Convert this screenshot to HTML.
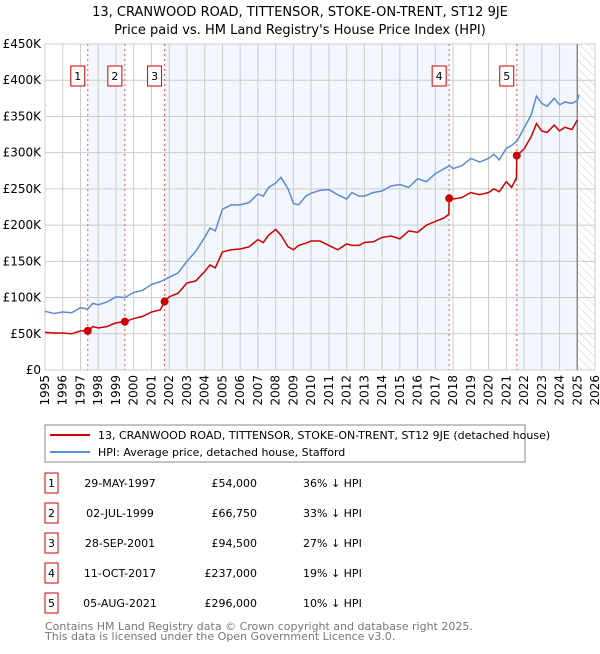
<!DOCTYPE html>
<html><head><meta charset="utf-8"><style>
body{margin:0;background:#fff;font-family:"DejaVu Sans","Liberation Sans",sans-serif;}
svg text{font-family:"DejaVu Sans","Liberation Sans",sans-serif;}
</style></head><body>
<svg id="chart" width="600" height="650" xmlns="http://www.w3.org/2000/svg">
<defs><pattern id="hatch" width="6" height="6" patternUnits="userSpaceOnUse" patternTransform="rotate(-45)"><line x1="0" y1="0" x2="0" y2="6" stroke="#ccc" stroke-width="1"/></pattern></defs>
<text x="300" y="16" text-anchor="middle" font-size="13">13, CRANWOOD ROAD, TITTENSOR, STOKE-ON-TRENT, ST12 9JE</text>
<text x="300" y="34" text-anchor="middle" font-size="13">Price paid vs. HM Land Registry's House Price Index (HPI)</text>
<g id="bands"></g><g id="grid"></g><g id="axes"></g><g id="lines"></g><g id="markers"></g>
<rect x="45" y="425" width="480" height="37" fill="#fff" stroke="#888"/>
<line x1="50" y1="435" x2="90" y2="435" stroke="#cc0000" stroke-width="2"/>
<text x="98" y="439" font-size="11">13, CRANWOOD ROAD, TITTENSOR, STOKE-ON-TRENT, ST12 9JE (detached house)</text>
<line x1="50" y1="452" x2="90" y2="452" stroke="#5b8bd0" stroke-width="2"/>
<text x="98" y="456" font-size="11">HPI: Average price, detached house, Stafford</text>
<g id="table"></g>
<text x="45" y="630" font-size="11" fill="#777">Contains HM Land Registry data © Crown copyright and database right 2025.</text>
<text x="45" y="640" font-size="11" fill="#777">This data is licensed under the Open Government Licence v3.0.</text>
</svg>
<script>
const yTicks=[0,50,100,150,200,250,300,350,400,450];
const yTickLabels=["£0","£50K","£100K","£150K","£200K","£250K","£300K","£350K","£400K","£450K"];
const years=[1995,1996,1997,1998,1999,2000,2001,2002,2003,2004,2005,2006,2007,2008,2009,2010,2011,2012,2013,2014,2015,2016,2017,2018,2019,2020,2021,2022,2023,2024,2025,2026];
const hpiT=[1995,1995.5,1996,1996.5,1997,1997.4,1997.7,1998,1998.5,1999,1999.5,2000,2000.5,2001,2001.5,2002,2002.5,2003,2003.5,2004,2004.3,2004.6,2005,2005.5,2006,2006.5,2007,2007.3,2007.6,2008,2008.3,2008.7,2009,2009.3,2009.7,2010,2010.5,2011,2011.5,2012,2012.3,2012.7,2013,2013.5,2014,2014.5,2015,2015.5,2016,2016.5,2017,2017.5,2017.8,2018,2018.5,2019,2019.5,2020,2020.3,2020.6,2021,2021.3,2021.6,2022,2022.4,2022.7,2023,2023.3,2023.7,2024,2024.3,2024.7,2025,2025.1];
const hpiV=[81,78,80,79,86,84,92,90,94,101,100,107,110,118,122,128,134,150,164,183,196,192,222,228,228,231,243,240,252,258,266,250,230,228,240,244,248,249,242,236,245,240,240,245,247,254,256,252,264,260,271,278,282,278,282,292,287,292,298,290,306,310,316,334,352,378,368,364,375,366,370,368,372,380];
const redT=[1995,1995.5,1996,1996.5,1997,1997.41,1997.7,1998,1998.5,1999,1999.5,2000,2000.5,2001,2001.5,2001.74,2002,2002.5,2003,2003.5,2004,2004.3,2004.6,2005,2005.5,2006,2006.5,2007,2007.3,2007.6,2008,2008.3,2008.7,2009,2009.3,2009.7,2010,2010.5,2011,2011.5,2012,2012.3,2012.7,2013,2013.5,2014,2014.5,2015,2015.5,2016,2016.5,2017,2017.5,2017.76,2017.78,2018,2018.5,2019,2019.5,2020,2020.3,2020.6,2021,2021.3,2021.57,2021.59,2022,2022.4,2022.7,2023,2023.3,2023.7,2024,2024.3,2024.7,2025,2025.1];
const redV=[52,51,51,50,54,54,60,58,60,65,66.75,71,74,80,83,94.5,101,106,120,123,136,145,141,163,166,167,170,180,176,186,194,186,170,166,172,175,178,178,172,166,174,172,172,176,177,183,185,181,192,190,200,205,210,215,237,236,238,245,242,245,250,246,260,252,265,296,305,322,340,330,328,338,330,335,332,345];
const saleLabels=["1","2","3","4","5"];
const saleT=[1997.41,1999.50,2001.74,2017.78,2021.59];
const saleV=[54,66.75,94.5,237,296];
const saleDates=["29-MAY-1997","02-JUL-1999","28-SEP-2001","11-OCT-2017","05-AUG-2021"];
const salePrices=["£54,000","£66,750","£94,500","£237,000","£296,000"];
const saleHpi=["36% ↓ HPI","33% ↓ HPI","27% ↓ HPI","19% ↓ HPI","10% ↓ HPI"];
const NS="http://www.w3.org/2000/svg";
const X0=45,X1=595,Y0=370,Y1=44;
const x=t=>X0+(t-1995)*(X1-X0)/31;
const y=v=>Y0-v*(Y0-Y1)/450;
function mk(tag,attrs,parent,txt){const e=document.createElementNS(NS,tag);for(const k in attrs)e.setAttribute(k,attrs[k]);if(txt!==undefined)e.textContent=txt;parent.appendChild(e);return e;}
const bands=document.getElementById('bands'),grid=document.getElementById('grid'),axes=document.getElementById('axes'),lines=document.getElementById('lines'),markers=document.getElementById('markers'),table=document.getElementById('table');
// shaded bands
const bandEdges=saleT.concat([2025]);
for(let i=0;i<bandEdges.length-1;i+=2){const r=mk('rect',{x:x(bandEdges[i]),y:Y1,width:x(bandEdges[i+1])-x(bandEdges[i]),height:Y0-Y1,fill:'#eef3fc',opacity:0.75},bands);

}
const h=mk('rect',{x:x(2025),y:Y1,width:X1-x(2025),height:Y0-Y1,fill:'url(#hatch)'},bands);


yTicks.forEach((v,i)=>{mk('line',{x1:X0,x2:X1,y1:y(v),y2:y(v),stroke:'#ccc'},grid);
const t=mk('text',{x:X0-4,y:y(v)+4,'text-anchor':'end','font-size':12},axes,yTickLabels[i]);

});
years.forEach(yr=>{mk('line',{x1:x(yr),x2:x(yr),y1:Y1,y2:Y0,stroke:'#ccc'},grid);
const t=mk('text',{transform:`translate(${x(yr)+4},${Y0+5}) rotate(-90)`,'text-anchor':'end','font-size':12},axes,String(yr));

});
mk('rect',{x:X0,y:Y1,width:X1-X0,height:Y0-Y1,fill:'none',stroke:'#ccc'},grid);
mk('line',{x1:x(2025),x2:x(2025),y1:Y1,y2:Y0,stroke:'#888','stroke-width':1.5},grid);
saleT.forEach(t=>{const l=mk('line',{x1:x(t),x2:x(t),y1:Y1,y2:Y0,stroke:'#e55','stroke-dasharray':'2,3'},grid);

});
const hp=mk('polyline',{points:hpiT.map((t,i)=>x(t)+','+y(hpiV[i])).join(' '),fill:'none',stroke:'#5b8bd0','stroke-width':1.5},lines);


const rp=mk('polyline',{points:redT.map((t,i)=>x(t)+','+y(redV[i])).join(' '),fill:'none',stroke:'#cc0000','stroke-width':1.5},lines);


saleT.forEach((t,i)=>{const c=mk('circle',{cx:x(t),cy:y(saleV[i]),r:4,fill:'#cc0000'},markers);


const g=mk('g',{},markers);


mk('rect',{x:x(t)-17,y:66,width:14,height:20,fill:'#fff',stroke:'#cc0000'},g);
mk('text',{x:x(t)-10,y:80,'text-anchor':'middle','font-size':11},g,saleLabels[i]);
const ry=483+i*30;
const row=mk('g',{},table);


mk('rect',{x:45,y:ry-10,width:13,height:20,fill:'#fff',stroke:'#cc0000'},row);
mk('text',{x:51.5,y:ry+4,'text-anchor':'middle','font-size':11},row,saleLabels[i]);
mk('text',{x:120,y:ry+4,'text-anchor':'middle','font-size':11},row,saleDates[i]);
mk('text',{x:257,y:ry+4,'text-anchor':'end','font-size':11},row,salePrices[i]);
mk('text',{x:303,y:ry+4,'font-size':11},row,saleHpi[i]);});
</script>
</body></html>
